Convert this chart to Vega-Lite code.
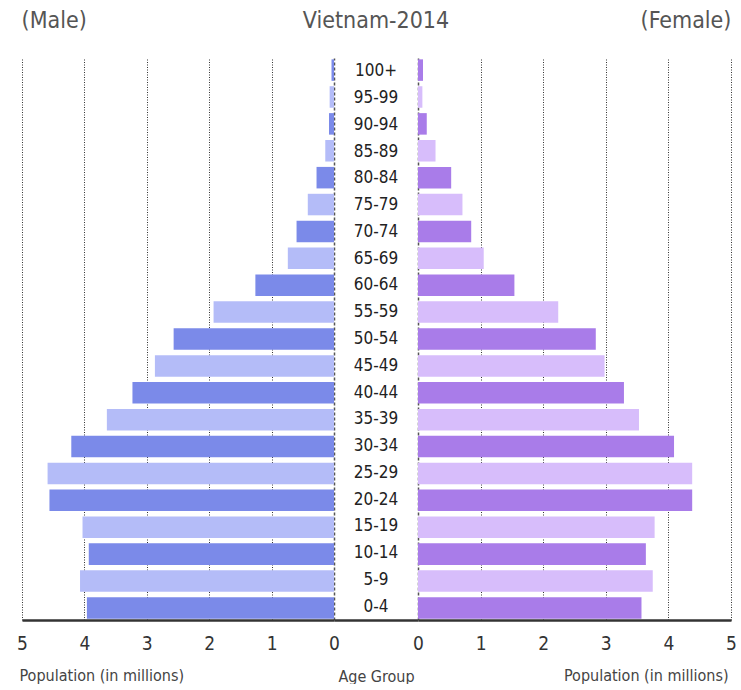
{
  "$schema": "https://vega.github.io/schema/vega-lite/v6.json",
  "padding": {"left": 16, "top": 10, "right": 0, "bottom": 0},
  "bounds": "flush",
  "spacing": 0,
  "data": {
    "values": [
      {"age": "100+", "male": 0.04, "female": 0.08},
      {"age": "95-99", "male": 0.07, "female": 0.07},
      {"age": "90-94", "male": 0.08, "female": 0.14},
      {"age": "85-89", "male": 0.14, "female": 0.28},
      {"age": "80-84", "male": 0.28, "female": 0.53},
      {"age": "75-79", "male": 0.42, "female": 0.71},
      {"age": "70-74", "male": 0.60, "female": 0.85},
      {"age": "65-69", "male": 0.74, "female": 1.05},
      {"age": "60-64", "male": 1.26, "female": 1.54},
      {"age": "55-59", "male": 1.93, "female": 2.24},
      {"age": "50-54", "male": 2.57, "female": 2.84},
      {"age": "45-49", "male": 2.87, "female": 2.98},
      {"age": "40-44", "male": 3.23, "female": 3.29},
      {"age": "35-39", "male": 3.64, "female": 3.53},
      {"age": "30-34", "male": 4.21, "female": 4.09},
      {"age": "25-29", "male": 4.59, "female": 4.38},
      {"age": "20-24", "male": 4.56, "female": 4.38},
      {"age": "15-19", "male": 4.03, "female": 3.78},
      {"age": "10-14", "male": 3.93, "female": 3.64},
      {"age": "5-9", "male": 4.07, "female": 3.75},
      {"age": "0-4", "male": 3.96, "female": 3.57}
    ]
  },
  "transform": [{"window": [{"op": "row_number", "as": "idx"}]}],
  "config": {
    "view": {"stroke": null},
    "font": "DejaVu Sans Condensed, sans-serif",
    "title": {"fontSize": 23, "fontWeight": "normal", "color": "#555", "offset": 25},
    "axisX": {
      "domainColor": "#333",
      "domainWidth": 2.5,
      "ticks": false,
      "labelFlush": false,
      "labelFontSize": 19,
      "labelColor": "#333",
      "labelPadding": 14,
      "titleFontSize": 16,
      "titleFontWeight": "normal",
      "titleColor": "#444",
      "titlePadding": 14,
      "gridColor": {"condition": {"test": "datum.value === 0", "value": "#555"}, "value": "#333"},
      "gridDash": {"condition": {"test": "datum.value === 0", "value": [3, 2]}, "value": [1, 1.5]},
      "gridWidth": {"condition": {"test": "datum.value === 0", "value": 1.5}, "value": 1}
    }
  },
  "hconcat": [
    {
      "width": 312,
      "height": 562,
      "title": {"text": "(Male)", "anchor": "start", "dx": 5},
      "mark": {"type": "bar"},
      "encoding": {
        "y": {"field": "age", "type": "nominal", "sort": null, "axis": null,
              "scale": {"paddingInner": 0.2, "paddingOuter": 0.05}},
        "x": {"field": "male", "type": "quantitative",
              "scale": {"domain": [0, 5], "reverse": true, "nice": false},
              "axis": {"values": [0, 1, 2, 3, 4, 5], "grid": true,
                       "title": "Population (in millions)", "titleX": -3, "titleAlign": "left", "titleAnchor": null}},
        "color": {"condition": {"test": "datum.idx % 2 === 1", "value": "#7b8ae9"}, "value": "#b4bcf8"}
      }
    },
    {
      "width": 84,
      "height": 562,
      "title": {"text": "Vietnam-2014", "anchor": "middle"},
      "mark": {"type": "text", "fontSize": 17, "color": "#222"},
      "encoding": {
        "y": {"field": "age", "type": "nominal", "sort": null, "axis": null,
              "scale": {"paddingInner": 0.2, "paddingOuter": 0.05}},
        "x": {"datum": 0.5, "type": "quantitative", "scale": {"domain": [0, 1]},
              "axis": {"labels": false, "grid": false, "title": "Age Group", "titlePadding": 48}},
        "text": {"field": "age"}
      }
    },
    {
      "width": 313,
      "height": 562,
      "title": {"text": "(Female)", "anchor": "end", "dx": -5},
      "mark": {"type": "bar"},
      "encoding": {
        "y": {"field": "age", "type": "nominal", "sort": null, "axis": null,
              "scale": {"paddingInner": 0.2, "paddingOuter": 0.05}},
        "x": {"field": "female", "type": "quantitative",
              "scale": {"domain": [0, 5], "nice": false},
              "axis": {"values": [0, 1, 2, 3, 4, 5], "grid": true,
                       "title": "Population (in millions)", "titleX": 310, "titleAlign": "right", "titleAnchor": null}},
        "color": {"condition": {"test": "datum.idx % 2 === 1", "value": "#a97ce9"}, "value": "#d7bdfb"}
      }
    }
  ]
}
